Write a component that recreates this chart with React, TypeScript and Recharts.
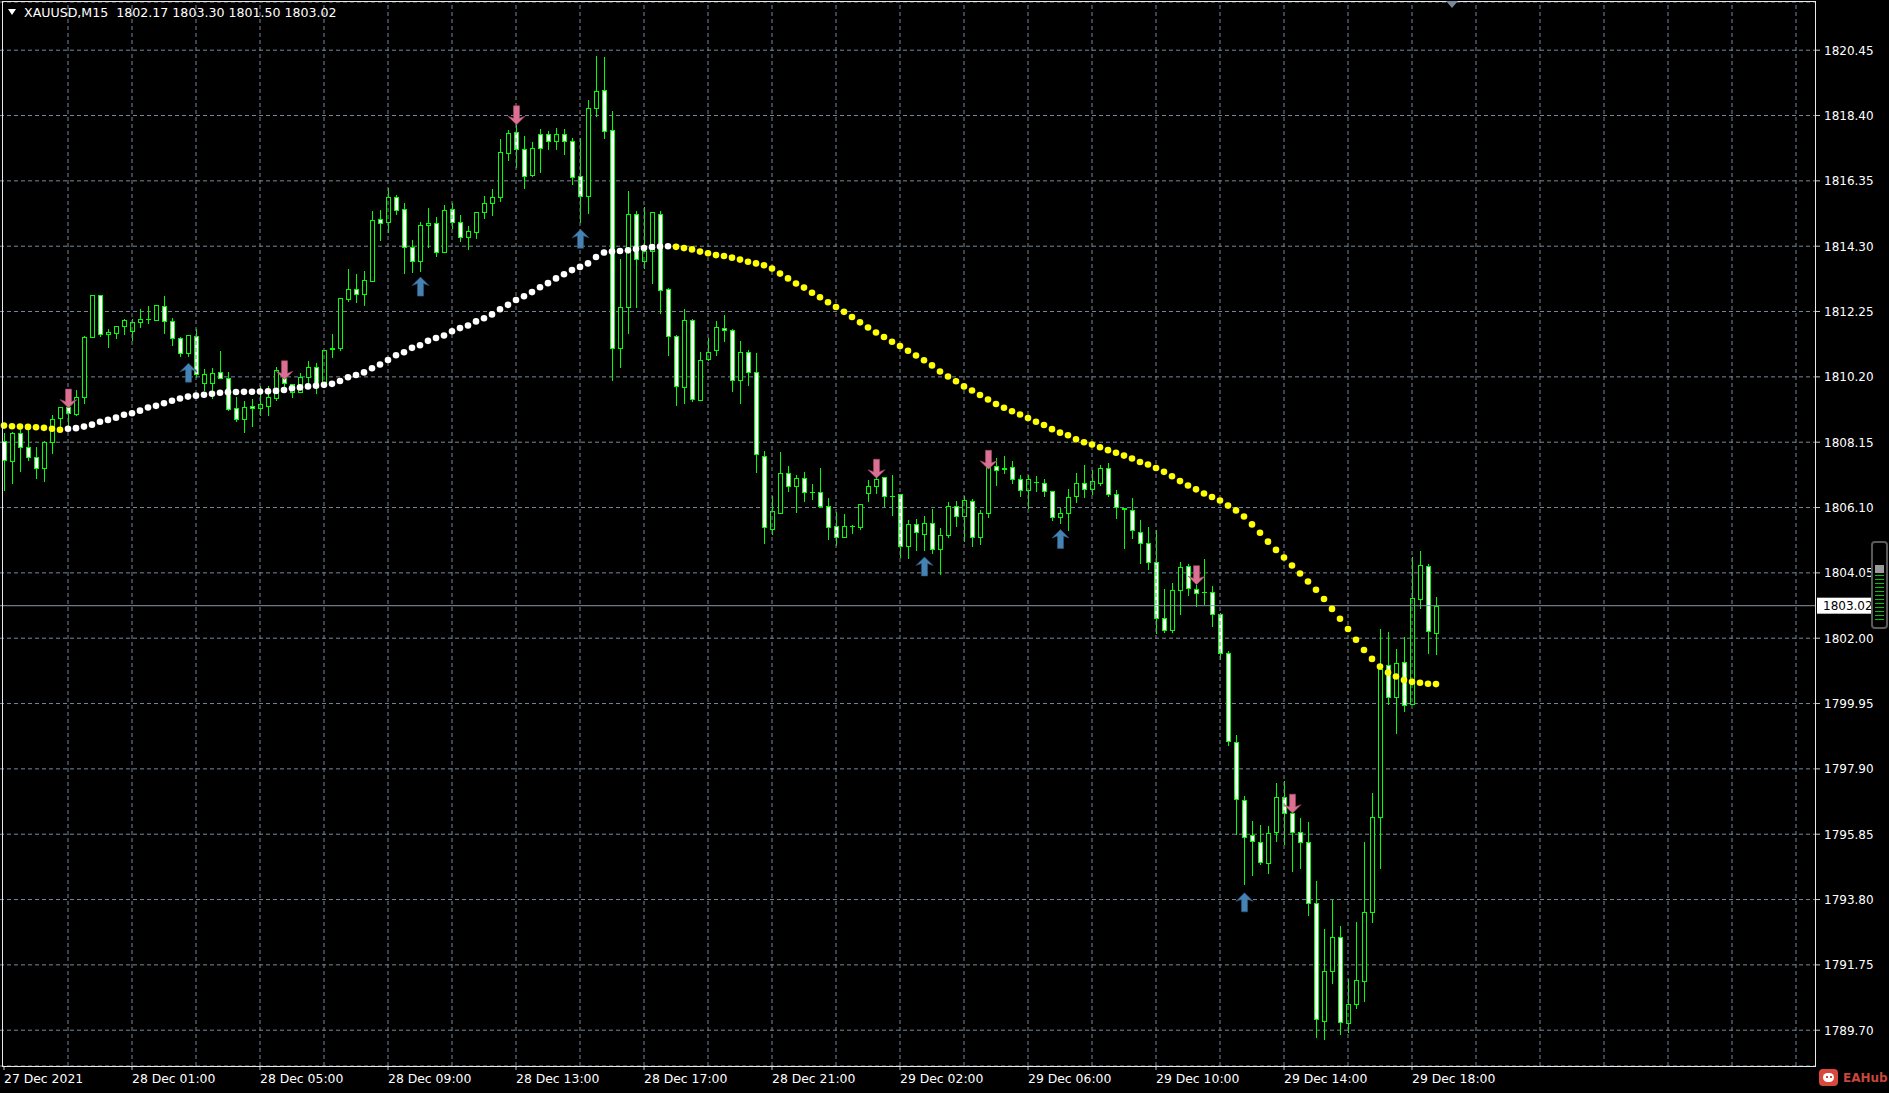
import React from 'react';
import { ComposedChart, Bar, Line, XAxis, YAxis, CartesianGrid, ReferenceLine } from 'recharts';

// ---- data (XAUUSD M15, bars from 27 Dec 2021 evening to 29 Dec 2021 18:45) ----
const openP = [
  1808.20, 1807.57, 1808.43, 1808.01, 1807.68, 1807.33, 1808.17, 1808.90, 1809.25, 1809.03,
  1809.58, 1811.45, 1812.77, 1811.55, 1811.57, 1811.80, 1811.65, 1811.92, 1812.01, 1811.99,
  1812.43, 1811.94, 1811.41, 1810.94, 1811.47, 1810.00, 1810.02, 1810.35, 1810.16, 1809.22,
  1808.87, 1809.28, 1809.22, 1809.30, 1809.53, 1810.16, 1809.74, 1809.74, 1810.19, 1810.52,
  1809.95, 1811.07, 1811.12, 1812.65, 1812.95, 1812.79, 1813.21, 1815.15, 1815.05, 1815.84,
  1815.47, 1814.27, 1813.82, 1814.98, 1815.02, 1814.13, 1815.47, 1815.05, 1814.60, 1814.76,
  1815.36, 1815.65, 1815.84, 1817.22, 1817.88, 1817.34, 1816.52, 1817.81, 1817.81, 1817.61,
  1817.81, 1817.61, 1816.51, 1815.88, 1818.65, 1819.21, 1817.95, 1811.12, 1812.40, 1815.30,
  1813.84, 1814.15, 1815.30, 1812.97, 1811.49, 1809.89, 1811.99, 1809.48, 1810.75, 1811.05,
  1811.73, 1811.68, 1810.11, 1810.99, 1810.35, 1807.73, 1805.44, 1805.94, 1807.18, 1806.76,
  1807.04, 1806.60, 1806.58, 1806.16, 1805.53, 1805.19, 1805.52, 1805.50, 1806.57, 1806.76,
  1807.05, 1806.47, 1806.52, 1804.90, 1805.57, 1805.28, 1805.63, 1804.81, 1805.23, 1806.15,
  1805.84, 1806.30, 1805.18, 1805.94, 1807.41, 1807.33, 1807.36, 1807.01, 1806.66, 1806.91,
  1806.88, 1806.62, 1805.81, 1805.94, 1806.47, 1806.87, 1806.69, 1806.87, 1807.34, 1806.53,
  1806.09, 1806.02, 1805.34, 1804.99, 1804.40, 1802.62, 1802.25, 1803.51, 1804.26, 1803.55,
  1803.45, 1803.44, 1802.77, 1801.54, 1798.75, 1796.91, 1795.81, 1795.61, 1794.94, 1795.91,
  1797.01, 1796.51, 1795.93, 1795.62, 1793.68, 1790.00, 1791.57, 1792.64, 1789.92, 1790.52,
  1791.25, 1793.42, 1796.38, 1801.16, 1800.17, 1801.25, 1799.93, 1803.22, 1804.27, 1802.17,
];

const highP = [
  1808.45, 1808.48, 1808.54, 1808.54, 1808.01, 1808.20, 1809.01, 1809.27, 1809.32, 1809.79,
  1811.47, 1812.78, 1812.78, 1811.70, 1811.81, 1812.00, 1812.03, 1812.33, 1812.43, 1812.46,
  1812.74, 1812.04, 1811.45, 1811.51, 1811.71, 1810.45, 1810.47, 1811.02, 1810.35, 1809.58,
  1809.43, 1809.50, 1809.90, 1809.90, 1810.52, 1810.42, 1809.99, 1810.32, 1810.70, 1810.63,
  1811.04, 1811.54, 1812.68, 1813.59, 1813.43, 1813.53, 1815.39, 1815.44, 1816.14, 1815.90,
  1815.65, 1814.50, 1815.05, 1815.51, 1815.23, 1815.60, 1815.67, 1815.28, 1814.92, 1815.38,
  1815.88, 1816.10, 1817.66, 1817.95, 1818.16, 1817.76, 1817.58, 1817.98, 1817.92, 1818.02,
  1817.99, 1817.69, 1817.71, 1818.89, 1820.27, 1820.24, 1818.53, 1813.89, 1816.02, 1815.41,
  1815.53, 1815.37, 1815.41, 1813.00, 1811.50, 1812.34, 1812.00, 1810.99, 1811.43, 1811.96,
  1812.15, 1811.70, 1811.33, 1811.05, 1810.94, 1807.86, 1806.45, 1807.84, 1807.41, 1807.13,
  1807.21, 1806.84, 1807.33, 1806.39, 1805.95, 1805.89, 1805.54, 1806.21, 1806.97, 1807.13,
  1807.07, 1807.13, 1806.53, 1805.70, 1805.73, 1805.84, 1806.05, 1805.47, 1806.28, 1806.30,
  1806.46, 1806.36, 1806.02, 1807.64, 1807.64, 1807.72, 1807.55, 1807.11, 1807.11, 1807.08,
  1807.01, 1806.63, 1806.07, 1806.68, 1807.17, 1807.42, 1807.29, 1807.45, 1807.50, 1806.66,
  1806.10, 1806.40, 1805.72, 1805.49, 1805.38, 1803.53, 1803.74, 1804.40, 1804.34, 1803.66,
  1804.50, 1803.65, 1802.78, 1801.61, 1798.96, 1797.04, 1796.26, 1796.13, 1796.12, 1797.47,
  1797.53, 1796.52, 1796.35, 1796.23, 1794.39, 1792.88, 1793.79, 1792.98, 1791.30, 1793.09,
  1795.62, 1797.14, 1802.29, 1802.19, 1801.67, 1802.03, 1804.56, 1804.74, 1804.33, 1803.30,
];

const lowP = [
  1806.65, 1806.86, 1807.25, 1807.60, 1807.04, 1806.94, 1807.80, 1808.64, 1808.69, 1809.01,
  1809.37, 1811.44, 1811.47, 1811.15, 1811.43, 1811.55, 1811.36, 1811.76, 1811.88, 1811.97,
  1811.59, 1811.20, 1810.84, 1810.84, 1810.21, 1809.79, 1809.53, 1810.15, 1809.17, 1808.82,
  1808.46, 1808.67, 1809.01, 1809.00, 1809.48, 1809.90, 1809.58, 1809.73, 1810.00, 1809.69,
  1809.90, 1810.81, 1811.03, 1812.59, 1812.54, 1812.46, 1813.20, 1814.48, 1814.73, 1815.31,
  1813.47, 1813.50, 1813.53, 1814.29, 1813.98, 1814.12, 1814.86, 1814.45, 1814.21, 1814.57,
  1815.18, 1815.28, 1815.73, 1817.01, 1816.80, 1816.14, 1816.50, 1816.64, 1817.34, 1817.34,
  1817.19, 1816.25, 1815.07, 1815.34, 1818.39, 1817.71, 1810.11, 1810.51, 1811.57, 1812.40,
  1813.63, 1813.16, 1812.20, 1810.89, 1809.32, 1809.37, 1809.43, 1809.47, 1810.74, 1810.88,
  1811.34, 1809.77, 1809.37, 1809.95, 1807.23, 1805.00, 1805.27, 1805.93, 1806.62, 1805.97,
  1806.29, 1806.36, 1806.11, 1805.12, 1804.93, 1805.18, 1805.29, 1805.42, 1806.31, 1806.57,
  1806.16, 1805.85, 1804.55, 1804.53, 1804.76, 1804.76, 1804.66, 1804.03, 1805.18, 1805.51,
  1805.05, 1804.89, 1804.97, 1805.81, 1806.80, 1807.17, 1806.88, 1806.46, 1806.07, 1806.61,
  1806.46, 1805.70, 1805.62, 1805.39, 1806.28, 1806.43, 1806.51, 1806.82, 1806.46, 1805.78,
  1804.83, 1805.15, 1804.36, 1804.18, 1802.17, 1802.20, 1802.20, 1802.77, 1803.37, 1803.02,
  1803.08, 1802.38, 1801.35, 1798.64, 1795.86, 1794.29, 1794.58, 1794.92, 1794.63, 1795.65,
  1795.54, 1794.71, 1794.80, 1793.30, 1789.50, 1789.42, 1791.17, 1789.57, 1789.63, 1790.41,
  1790.63, 1793.09, 1794.78, 1799.94, 1799.04, 1799.73, 1799.92, 1802.96, 1801.55, 1801.50,
];

const closeP = [
  1807.60, 1808.43, 1808.01, 1807.68, 1807.33, 1808.17, 1808.87, 1809.25, 1809.06, 1809.58,
  1811.45, 1812.77, 1811.55, 1811.60, 1811.80, 1811.99, 1811.93, 1812.01, 1812.02, 1812.45,
  1811.96, 1811.41, 1810.94, 1811.50, 1810.28, 1810.28, 1810.32, 1810.16, 1809.20, 1808.87,
  1809.25, 1809.22, 1809.34, 1809.56, 1810.40, 1810.00, 1809.98, 1810.19, 1810.52, 1809.95,
  1811.03, 1811.12, 1812.67, 1812.95, 1812.79, 1813.24, 1815.13, 1815.04, 1815.84, 1815.42,
  1814.27, 1813.82, 1814.96, 1815.02, 1814.13, 1815.44, 1815.05, 1814.60, 1814.78, 1815.37,
  1815.65, 1815.84, 1817.25, 1817.85, 1817.34, 1816.49, 1817.38, 1817.38, 1817.61, 1817.81,
  1817.61, 1816.48, 1815.88, 1818.63, 1819.17, 1817.92, 1811.09, 1812.40, 1815.32, 1813.91,
  1814.15, 1815.36, 1812.93, 1811.49, 1809.92, 1811.99, 1809.50, 1810.73, 1810.99, 1811.75,
  1811.66, 1810.11, 1810.99, 1810.35, 1807.77, 1805.48, 1805.99, 1807.18, 1806.76, 1807.02,
  1806.60, 1806.58, 1806.16, 1805.50, 1805.19, 1805.53, 1805.53, 1806.20, 1806.76, 1807.00,
  1806.45, 1806.45, 1804.90, 1805.57, 1805.32, 1805.63, 1804.81, 1805.25, 1806.15, 1805.84,
  1806.33, 1805.18, 1805.94, 1807.40, 1807.29, 1807.32, 1807.01, 1806.66, 1807.01, 1806.90,
  1806.62, 1805.81, 1805.94, 1806.43, 1806.88, 1806.69, 1806.93, 1807.34, 1806.53, 1806.12,
  1806.04, 1805.38, 1804.99, 1804.40, 1802.62, 1802.27, 1803.51, 1804.24, 1803.56, 1803.42,
  1803.44, 1802.77, 1801.54, 1798.77, 1796.94, 1795.77, 1795.65, 1794.98, 1795.88, 1797.01,
  1796.51, 1795.93, 1795.60, 1793.68, 1790.04, 1791.57, 1792.64, 1789.95, 1790.52, 1791.26,
  1793.42, 1796.38, 1801.03, 1800.15, 1801.22, 1799.89, 1803.26, 1804.30, 1802.23, 1803.02,
];

// moving average (dotted line): white while rising, yellow while falling
const maP = [
  1808.67, 1808.65, 1808.64, 1808.63, 1808.62, 1808.60, 1808.57, 1808.54, 1808.57, 1808.59,
  1808.64, 1808.70, 1808.79, 1808.85, 1808.92, 1809.01, 1809.06, 1809.14, 1809.24, 1809.29,
  1809.37, 1809.45, 1809.52, 1809.58, 1809.61, 1809.64, 1809.67, 1809.70, 1809.72, 1809.725,
  1809.73, 1809.735, 1809.74, 1809.75, 1809.76, 1809.79, 1809.84, 1809.87, 1809.90, 1809.92,
  1809.95, 1809.98, 1810.07, 1810.19, 1810.26, 1810.34, 1810.47, 1810.59, 1810.73, 1810.88,
  1810.97, 1811.11, 1811.19, 1811.33, 1811.42, 1811.50, 1811.63, 1811.73, 1811.81, 1811.94,
  1812.04, 1812.16, 1812.32, 1812.46, 1812.61, 1812.73, 1812.86, 1813.01, 1813.14, 1813.29,
  1813.42, 1813.55, 1813.65, 1813.76, 1813.96, 1814.10, 1814.13, 1814.15, 1814.17, 1814.21,
  1814.24, 1814.27, 1814.29, 1814.30, 1814.28, 1814.24, 1814.20, 1814.13, 1814.08, 1814.02,
  1813.99, 1813.94, 1813.88, 1813.81, 1813.76, 1813.70, 1813.60, 1813.44, 1813.29, 1813.13,
  1813.00, 1812.84, 1812.70, 1812.54, 1812.39, 1812.24, 1812.08, 1811.91, 1811.75, 1811.59,
  1811.45, 1811.30, 1811.17, 1811.02, 1810.87, 1810.72, 1810.56, 1810.37, 1810.21, 1810.06,
  1809.90, 1809.77, 1809.63, 1809.49, 1809.35, 1809.23, 1809.12, 1809.02, 1808.91, 1808.79,
  1808.69, 1808.56, 1808.45, 1808.37, 1808.24, 1808.15, 1808.08, 1807.99, 1807.90, 1807.82,
  1807.73, 1807.64, 1807.53, 1807.45, 1807.34, 1807.22, 1807.08, 1806.93, 1806.79, 1806.67,
  1806.54, 1806.43, 1806.32, 1806.16, 1806.01, 1805.82, 1805.57, 1805.31, 1805.03, 1804.77,
  1804.53, 1804.28, 1804.03, 1803.78, 1803.52, 1803.23, 1802.92, 1802.61, 1802.29, 1801.95,
  1801.63, 1801.35, 1801.11, 1800.92, 1800.80, 1800.69, 1800.63, 1800.60, 1800.57, 1800.56,
];

// signal arrows (bar index, price at arrow tip)
const sellIdx = [8, 35, 64, 109, 123, 149, 161];
const sellTip = [1809.22, 1810.11, 1818.11, 1807.02, 1807.30, 1803.68, 1796.51];
const buyIdx = [23, 52, 72, 115, 132, 155];
const buyTip = [1810.63, 1813.33, 1814.83, 1804.55, 1805.41, 1794.01];

// axes
const timeTickIdx = [0, 16, 32, 48, 64, 80, 96, 112, 128, 144, 160, 176];
const timeTickLabels = [
  '27 Dec 2021', '28 Dec 01:00', '28 Dec 05:00', '28 Dec 09:00', '28 Dec 13:00', '28 Dec 17:00',
  '28 Dec 21:00', '29 Dec 02:00', '29 Dec 06:00', '29 Dec 10:00', '29 Dec 14:00', '29 Dec 18:00',
];
const priceTicks = [
  1789.70, 1791.75, 1793.80, 1795.85, 1797.90, 1799.95, 1802.00, 1804.05,
  1806.10, 1808.15, 1810.20, 1812.25, 1814.30, 1816.35, 1818.40, 1820.45,
];
const gridIdx = [
  8, 16, 24, 32, 40, 48, 56, 64, 72, 80, 88, 96, 104, 112, 120, 128, 136, 144,
  152, 160, 168, 176, 184, 192, 200, 208, 216, 224,
];
const SLOTS = 227; // bar slots visible across the window (incl. empty right side)
const Y_DOMAIN: [number, number] = [1788.577, 1821.962];

const GREEN = '#00ff00';
const GRID = '#778899';
const FONT = '"DejaVu Sans", Tahoma, Verdana, sans-serif';

const last = openP.length - 1;
const lastO = openP[last], lastH = highP[last], lastL = lowP[last], lastC = closeP[last];

const rows = Array.from({ length: SLOTS }, (_, i) => {
  const has = i < openP.length;
  const s = sellIdx.indexOf(i);
  const b = buyIdx.indexOf(i);
  return {
    i,
    o: has ? openP[i] : null,
    h: has ? highP[i] : null,
    l: has ? lowP[i] : null,
    c: has ? closeP[i] : null,
    hl: has ? [lowP[i], highP[i]] : null,
    ma: has ? maP[i] : null,
    maUp: has && i > 0 && maP[i] > maP[i - 1],
    sell: s >= 0 ? sellTip[s] : null,
    buy: b >= 0 ? buyTip[b] : null,
  };
});

const Candle = (props: any) => {
  const { x, y, width, height, payload } = props;
  if (!payload || payload.o == null || !isFinite(y) || !isFinite(height)) return <g />;
  const top = Math.min(y, y + height);
  const span = Math.abs(height);
  const { o, h, l, c } = payload;
  const k = span / (h - l);
  const cx = Math.floor(x + width / 2);
  const bodyTop = top + (h - Math.max(o, c)) * k;
  const bodyBot = top + (h - Math.min(o, c)) * k;
  const bull = c >= o;
  const yt = Math.round(bodyTop);
  const yb = Math.round(bodyBot);
  return (
    <g>
      <line x1={cx + 0.5} x2={cx + 0.5} y1={Math.round(top)} y2={Math.round(top + span) + 1} stroke={GREEN} strokeWidth={1} />
      {yb - yt >= 1 ? (
        <rect x={cx - 1.5} y={yt + 0.5} width={4} height={yb - yt} fill={bull ? '#000' : '#fff'} stroke={GREEN} strokeWidth={1} />
      ) : (
        <line x1={cx - 2} x2={cx + 3} y1={yt + 0.5} y2={yt + 0.5} stroke={GREEN} strokeWidth={1} />
      )}
    </g>
  );
};

const MaDot = (p: any) => {
  const { cx, cy, payload, index } = p;
  if (cx == null || cy == null || !payload || payload.ma == null) return <g key={`ma-${index}`} />;
  return <circle key={`ma-${index}`} cx={cx} cy={cy} r={3.3} fill={payload.maUp ? '#ffffff' : '#ffff00'} />;
};

const SellArrow = (p: any) => {
  const { cx, cy, payload, index } = p;
  if (cx == null || cy == null || !payload || payload.sell == null) return <g key={`s-${index}`} />;
  const x = Math.floor(cx) + 0.5;
  const d = `M${x},${cy} L${x - 8.5},${cy - 8.5} L${x - 3},${cy - 6.5} L${x - 3},${cy - 19} L${x + 3},${cy - 19} L${x + 3},${cy - 6.5} L${x + 8.5},${cy - 8.5} Z`;
  return <path key={`s-${index}`} d={d} fill="#db7093" stroke="#a04a68" strokeWidth={0.6} />;
};

const BuyArrow = (p: any) => {
  const { cx, cy, payload, index } = p;
  if (cx == null || cy == null || !payload || payload.buy == null) return <g key={`b-${index}`} />;
  const x = Math.floor(cx) + 0.5;
  const d = `M${x},${cy} L${x - 8.5},${cy + 8.5} L${x - 3},${cy + 6.5} L${x - 3},${cy + 19} L${x + 3},${cy + 19} L${x + 3},${cy + 6.5} L${x + 8.5},${cy + 8.5} Z`;
  return <path key={`b-${index}`} d={d} fill="#4682b4" stroke="#2e5a80" strokeWidth={0.6} />;
};

const XTick = (p: any) => {
  const idx = timeTickIdx.indexOf(Number(p.payload.value));
  if (idx < 0) return <g />;
  return (
    <text x={p.x} y={p.y} dy={11} fill="#ffffff" fontSize={12.4} fontFamily={FONT} textAnchor="start">
      {timeTickLabels[idx]}
    </text>
  );
};

const YTick = (p: any) => (
  <text x={p.x} y={p.y} dy={4.5} fill="#ffffff" fontSize={12} fontFamily={FONT} textAnchor="start">
    {Number(p.payload.value).toFixed(2)}
  </text>
);

const PriceTag = (p: any) => {
  const vb = p.viewBox || {};
  const x = (vb.x || 0) + (vb.width || 0);
  const y = vb.y || 0;
  return (
    <g>
      <rect x={x + 1} y={y - 8} width={56} height={16} fill="#ffffff" />
      <text x={x + 7} y={y + 4.5} fontSize={12} fontFamily={FONT} fill="#000000">
        {lastC.toFixed(2)}
      </text>
    </g>
  );
};

export default function App() {
  return (
    <div style={{ position: 'fixed', left: 0, top: 0, width: 1889, height: 1093, background: '#000', overflow: 'hidden' }}>
      <ComposedChart width={1889} height={1093} data={rows} margin={{ top: 2, right: 0, bottom: 0, left: 0 }}>
        <CartesianGrid horizontal vertical={false} stroke={GRID} strokeDasharray="4 3" />
        <XAxis
          dataKey="i"
          type="category"
          allowDuplicatedCategory={false}
          ticks={timeTickIdx}
          interval={0}
          height={27}
          axisLine={false}
          tickLine={{ stroke: '#c8c8c8' }}
          tickSize={4}
          tickMargin={2}
          tick={<XTick />}
        />
        <YAxis
          orientation="right"
          width={73}
          type="number"
          domain={Y_DOMAIN}
          allowDataOverflow
          ticks={priceTicks}
          interval={0}
          axisLine={false}
          tickLine={{ stroke: '#c8c8c8' }}
          tickSize={4}
          tickMargin={4}
          tick={<YTick />}
        />
        {gridIdx.map((g) => (
          <ReferenceLine key={`vg-${g}`} x={g} stroke={GRID} strokeDasharray="4 3" />
        ))}
        <ReferenceLine y={lastC} stroke="#8895a5" strokeWidth={1} label={<PriceTag />} />
        <Bar dataKey="hl" shape={<Candle />} barSize={5} isAnimationActive={false} />
        <Line dataKey="ma" stroke="none" dot={MaDot} activeDot={false} isAnimationActive={false} legendType="none" />
        <Line dataKey="sell" stroke="none" dot={SellArrow} activeDot={false} isAnimationActive={false} legendType="none" />
        <Line dataKey="buy" stroke="none" dot={BuyArrow} activeDot={false} isAnimationActive={false} legendType="none" />
      </ComposedChart>

      {/* chart frame */}
      <svg width={1889} height={1093} style={{ position: 'absolute', left: 0, top: 0, pointerEvents: 'none' }}>
        <rect x={2.5} y={1.5} width={1813} height={1065} fill="none" stroke="#e8e8e8" strokeWidth={1} />
        <polygon points="1446,1 1458,1 1452,8" fill="#778899" />
        <polygon points="8,9 16,9 12,15" fill="#ffffff" />
      </svg>

      {/* header */}
      <div
        style={{
          position: 'absolute', left: 24, top: 5, color: '#fff', fontFamily: FONT, fontSize: 12.6,
          whiteSpace: 'pre', lineHeight: '16px',
        }}
      >
        {`XAUUSD,M15  ${lastO.toFixed(2)} ${lastH.toFixed(2)} ${lastL.toFixed(2)} ${lastC.toFixed(2)}`}
      </div>

      {/* volume widget at the right edge */}
      <div
        style={{
          position: 'absolute', left: 1871, top: 541, width: 13, height: 84, border: '2px solid #5a5a5a',
          borderRadius: 4, background: '#000',
        }}
      >
        <div style={{ position: 'absolute', left: 2, right: 2, top: 22, height: 8, background: '#9a9a9a' }} />
        <div
          style={{
            position: 'absolute', left: 2, right: 2, top: 32, bottom: 6,
            background: 'repeating-linear-gradient(#00c800 0px, #00c800 1px, #000 1px, #000 4px)',
          }}
        />
      </div>

      {/* EAHub logo */}
      <div style={{ position: 'absolute', left: 1819, top: 1069, display: 'flex', alignItems: 'center' }}>
        <div style={{ width: 19, height: 17, background: '#d8483c', borderRadius: 4, position: 'relative' }}>
          <div style={{ position: 'absolute', left: 4, top: 4, width: 11, height: 9, background: '#fff', borderRadius: 5 }} />
          <div style={{ position: 'absolute', left: 7, top: 7, width: 2, height: 2, background: '#d8483c' }} />
          <div style={{ position: 'absolute', left: 11, top: 7, width: 2, height: 2, background: '#d8483c' }} />
        </div>
        <span style={{ marginLeft: 5, color: '#c8463d', fontFamily: FONT, fontSize: 12, fontWeight: 'bold' }}>EAHub</span>
      </div>
    </div>
  );
}
